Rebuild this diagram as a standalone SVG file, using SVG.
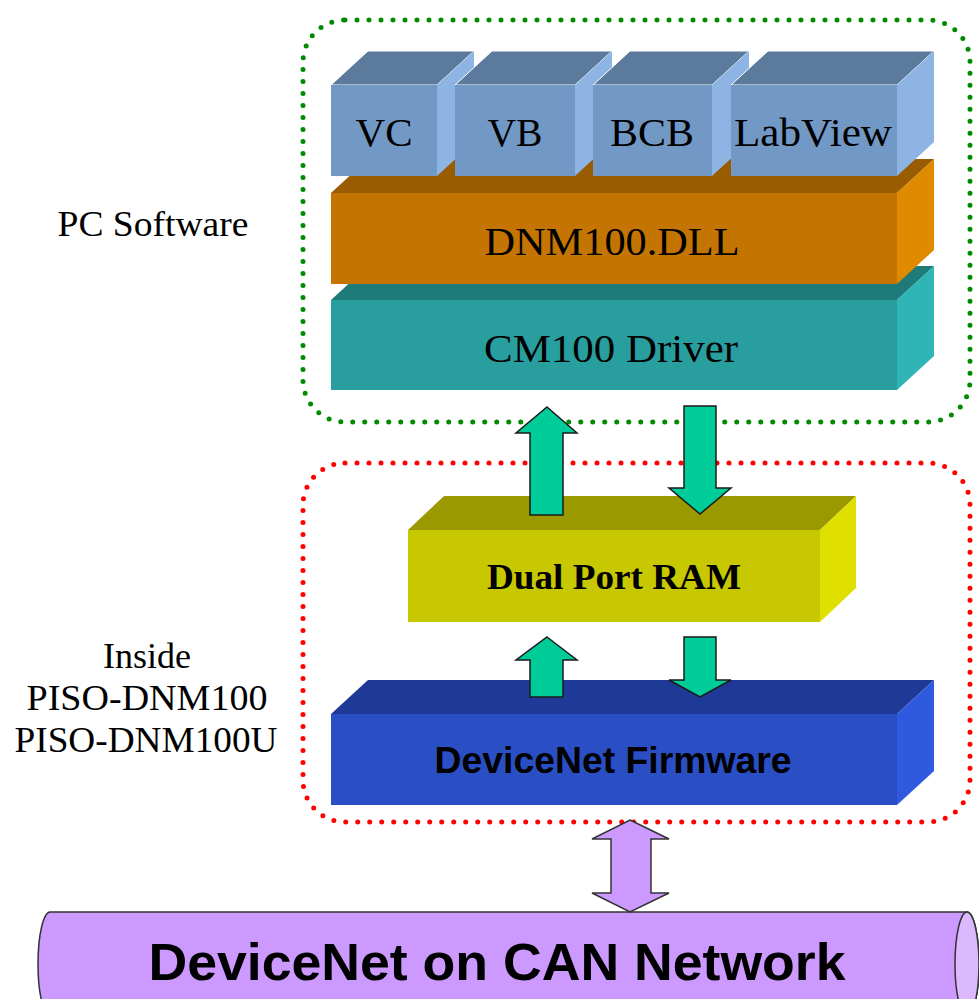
<svg xmlns="http://www.w3.org/2000/svg" width="979" height="999" viewBox="0 0 979 999">
<style>
.serif{font-family:"Liberation Serif","Times New Roman",serif;fill:#000}
.sans{font-family:"Liberation Sans",Arial,sans-serif;font-weight:bold;fill:#000}
.arrow{fill:#00cc99;stroke:#1a1a1a;stroke-width:1.5;stroke-linejoin:miter}
.purple{fill:#cc99ff;stroke:#333;stroke-width:1.5}
.gdots{fill:none;stroke:#008a00;stroke-width:5;stroke-linecap:round;stroke-dasharray:0 12}
.rdots{fill:none;stroke:#ff0000;stroke-width:5;stroke-linecap:round;stroke-dasharray:0 12}
</style>
<rect width="979" height="999" fill="#fff"/>

<g id="groups">
<rect class="gdots" x="303" y="20" width="667" height="402" rx="42"/>
<rect class="rdots" x="303" y="463" width="667" height="359" rx="42"/>
</g>

<g id="cm100">
<path d="M331,300 L368,266 L934,266 L897,300 Z" fill="#1f7a7a"/>
<path d="M897,300 L934,266 L934,356 L897,390 Z" fill="#2fb5b5"/>
<rect x="331" y="300" width="566" height="90" fill="#289e9e"/>
<text class="serif" x="611" y="362" font-size="40" text-anchor="middle" textLength="254" lengthAdjust="spacingAndGlyphs">CM100 Driver</text>
</g>

<g id="dll">
<path d="M331,193 L368,159 L934,159 L897,193 Z" fill="#9a5c00"/>
<path d="M897,193 L934,159 L934,250 L897,284 Z" fill="#e08a00"/>
<rect x="331" y="193" width="566" height="91" fill="#c47400"/>
<text class="serif" x="612" y="255" font-size="40" text-anchor="middle" textLength="255" lengthAdjust="spacingAndGlyphs">DNM100.DLL</text>
</g>

<g id="vc">
<path d="M331,85 L368,51 L474,51 L437,85 Z" fill="#5b7a9c" stroke="#fff" stroke-width="1"/>
<path d="M437,85 L474,51 L474,142 L437,176 Z" fill="#8db4e2"/>
<rect x="331" y="85" width="106" height="91" fill="#7299c6"/>
<text class="serif" x="384" y="146" font-size="40" text-anchor="middle" textLength="57" lengthAdjust="spacingAndGlyphs">VC</text>
</g>
<g id="vb">
<path d="M455,85 L492,51 L612,51 L575,85 Z" fill="#5b7a9c" stroke="#fff" stroke-width="1"/>
<path d="M575,85 L612,51 L612,142 L575,176 Z" fill="#8db4e2"/>
<rect x="455" y="85" width="120" height="91" fill="#7299c6"/>
<text class="serif" x="515" y="146" font-size="40" text-anchor="middle" textLength="55" lengthAdjust="spacingAndGlyphs">VB</text>
</g>
<g id="bcb">
<path d="M593,85 L630,51 L749,51 L712,85 Z" fill="#5b7a9c" stroke="#fff" stroke-width="1"/>
<path d="M712,85 L749,51 L749,142 L712,176 Z" fill="#8db4e2"/>
<rect x="593" y="85" width="119" height="91" fill="#7299c6"/>
<text class="serif" x="652" y="146" font-size="40" text-anchor="middle" textLength="84" lengthAdjust="spacingAndGlyphs">BCB</text>
</g>
<g id="labview">
<path d="M731,85 L768,51 L934,51 L897,85 Z" fill="#5b7a9c" stroke="#fff" stroke-width="1"/>
<path d="M897,85 L934,51 L934,142 L897,176 Z" fill="#8db4e2"/>
<rect x="731" y="85" width="166" height="91" fill="#7299c6"/>
<text class="serif" x="813" y="146" font-size="40" text-anchor="middle" textLength="158" lengthAdjust="spacingAndGlyphs">LabView</text>
</g>

<g id="dpram">
<path d="M408,530 L444,496 L856,496 L820,530 Z" fill="#9a9a00"/>
<path d="M820,530 L856,496 L856,588 L820,622 Z" fill="#e0e000"/>
<rect x="408" y="530" width="412" height="92" fill="#c8c800"/>
<text class="serif" x="614" y="589" font-size="36" font-weight="bold" text-anchor="middle" textLength="254" lengthAdjust="spacingAndGlyphs">Dual Port RAM</text>
</g>

<g id="firmware">
<path d="M331,714 L368,680 L934,680 L897,714 Z" fill="#1f3a96"/>
<path d="M897,714 L934,680 L934,771 L897,805 Z" fill="#2f5ae0"/>
<rect x="331" y="714" width="566" height="91" fill="#2a4fc4"/>
<text class="sans" x="613" y="773" font-size="36" text-anchor="middle" textLength="357" lengthAdjust="spacingAndGlyphs">DeviceNet Firmware</text>
</g>

<g id="network">
<path class="purple" d="M50,912 H967 A12,52 0 0 1 967,1016 H50 A12,52 0 0 1 50,912 Z"/>
<ellipse cx="967" cy="964" rx="12" ry="52" fill="#dcb8ff" stroke="#333" stroke-width="1.5"/>
<text class="sans" x="497" y="980" font-size="52" text-anchor="middle" textLength="697" lengthAdjust="spacingAndGlyphs">DeviceNet on CAN Network</text>
</g>

<g id="labels">
<text class="serif" x="153" y="236" font-size="36" text-anchor="middle" textLength="191" lengthAdjust="spacingAndGlyphs">PC Software</text>
<text class="serif" x="147" y="668" font-size="36" text-anchor="middle">Inside</text>
<text class="serif" x="147" y="710" font-size="36" text-anchor="middle" textLength="241" lengthAdjust="spacingAndGlyphs">PISO-DNM100</text>
<text class="serif" x="146" y="752" font-size="36" text-anchor="middle" textLength="263" lengthAdjust="spacingAndGlyphs">PISO-DNM100U</text>
</g>

<g id="connectors">
<path class="arrow" d="M547,407 L577,433 L563,433 L563,515 L530,515 L530,433 L516,433 Z"/>
<path class="arrow" d="M684,406 L716,406 L716,488 L731,488 L700,514 L669,488 L684,488 Z"/>
<path class="arrow" d="M547,637 L577,660 L563,660 L563,697 L530,697 L530,660 L516,660 Z"/>
<path class="arrow" d="M684,637 L716,637 L716,680 L731,680 L700,697 L669,680 L684,680 Z"/>
<path class="purple" d="M630,820 L669,839 L651,839 L651,893 L669,893 L630,912 L592,893 L611,893 L611,839 L592,839 Z"/>
</g>
</svg>
